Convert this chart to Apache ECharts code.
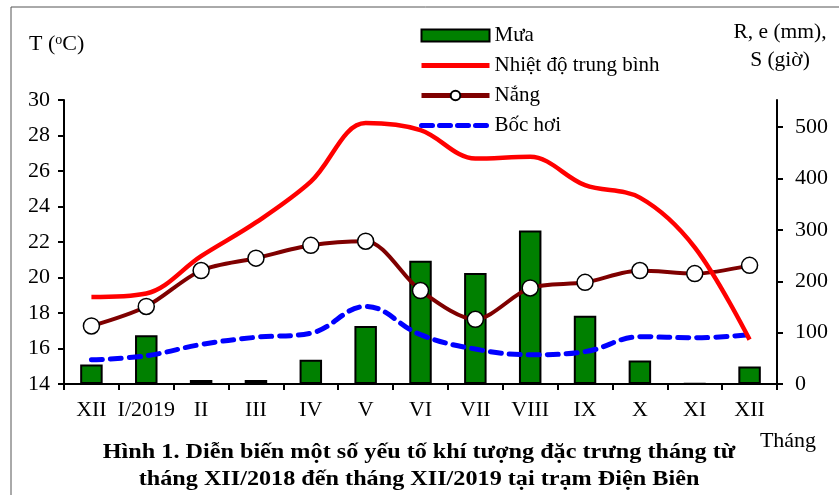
<!DOCTYPE html>
<html>
<head>
<meta charset="utf-8">
<style>html,body{margin:0;padding:0;background:#fff;}#c{width:839px;height:495px;}</style>
<script src="https://cdn.jsdelivr.net/npm/echarts@6/dist/echarts.min.js"></script>
</head>
<body>
<div id="c"></div>
<script>
const categories = ['XII', 'I/2019', 'II', 'III', 'IV', 'V', 'VI', 'VII', 'VIII', 'IX', 'X', 'XI', 'XII'];
const rain = [38, 95, 8, 8, 47, 113, 240, 216, 299, 133, 46, 1, 34];
const temperature = [18.9, 19.1, 21.2, 23.1, 25.4, 28.7, 28.3, 26.7, 26.8, 25.2, 24.5, 21.7, 16.5];
const sunshine = [113, 151, 221, 245, 270, 278, 182, 126, 187, 198, 221, 215, 231];
const evaporation = [47, 55, 77, 91, 99, 151, 96, 68, 57, 63, 92, 90, 96];
const leftTicks = [14, 16, 18, 20, 22, 24, 26, 28, 30];
const rightTicks = [0, 100, 200, 300, 400, 500];

const FONT = 'Liberation Serif';
const chart = echarts.init(document.getElementById('c'));
chart.setOption({
  animation: false,
  backgroundColor: '#fff',
  textStyle: { fontFamily: FONT, color: '#000' },
  grid: { left: 64, right: 62, top: 100, bottom: 111 },
  legend: {
    orient: 'vertical',
    left: 414,
    top: 20,
    itemWidth: 68,
    itemHeight: 12,
    itemGap: 9,
    data: [
      { name: 'Mưa', icon: 'rect' },
      { name: 'Nhiệt độ trung bình', itemStyle: { opacity: 0 }, lineStyle: { width: 5 } },
      { name: 'Nắng', lineStyle: { width: 5 } },
      { name: 'Bốc hơi', itemStyle: { opacity: 0 }, lineStyle: { width: 5, type: [11, 7] } }
    ],
    textStyle: { fontFamily: FONT, fontSize: 21, color: '#000', lineHeight: 21 }
  },
  xAxis: {
    type: 'category',
    data: categories,
    boundaryGap: true,
    axisLine: { lineStyle: { color: '#000', width: 2 } },
    axisTick: { show: true, interval: 0, length: 6, lineStyle: { color: '#000', width: 2 } },
    axisLabel: { interval: 0, fontFamily: FONT, fontSize: 22, color: '#000', margin: 15 },
    splitLine: { show: false }
  },
  yAxis: [
    {
      type: 'value', min: 14, max: 30, interval: 2,
      axisLine: { show: true, lineStyle: { color: '#000', width: 2 } },
      axisTick: { show: true, length: 6, lineStyle: { color: '#000', width: 2 } },
      axisLabel: { fontFamily: FONT, fontSize: 22, color: '#000', margin: 14, customValues: leftTicks },
      splitLine: { show: false }
    },
    {
      type: 'value', min: 0, max: 553,
      axisLine: { show: true, lineStyle: { color: '#000', width: 2 } },
      axisTick: { show: true, length: 6, lineStyle: { color: '#000', width: 2 }, customValues: rightTicks },
      axisLabel: { fontFamily: FONT, fontSize: 22, color: '#000', margin: 18, customValues: rightTicks },
      splitLine: { show: false }
    }
  ],
  series: [
    {
      name: 'Mưa', type: 'bar', yAxisIndex: 1, data: rain,
      barWidth: '41%',
      itemStyle: { color: '#008000', borderColor: '#000', borderWidth: 2 }
    },
    {
      name: 'Bốc hơi', type: 'line', yAxisIndex: 1, data: evaporation,
      smooth: 0.4, symbol: 'none',
      lineStyle: { color: '#0000FF', width: 5, type: [11, 8], cap: 'round' },
      itemStyle: { color: '#0000FF' }
    },
    {
      name: 'Nắng', type: 'line', yAxisIndex: 1, data: sunshine,
      smooth: 0.3, symbol: 'circle', symbolSize: 16,
      lineStyle: { color: '#7F0000', width: 4 },
      itemStyle: { color: '#fff', borderColor: '#000', borderWidth: 1.5 }
    },
    {
      name: 'Nhiệt độ trung bình', type: 'line', yAxisIndex: 0, data: temperature,
      smooth: 0.35, symbol: 'none',
      lineStyle: { color: '#FF0000', width: 4.5 },
      itemStyle: { color: '#FF0000' }
    }
  ],
  graphic: [
    { type: 'rect', shape: { x: 11, y: 7, width: 900, height: 900 }, style: { fill: 'none', stroke: '#555', lineWidth: 1 }, silent: true },
    {
      type: 'text', left: 29, top: 33,
      style: {
        text: '{n|T (}{s|o}{n|C)}',
        rich: {
          n: { fontFamily: FONT, fontSize: 22, fill: '#000' },
          s: { fontFamily: FONT, fontSize: 14, fill: '#000', verticalAlign: 'top', padding: [0, 0, 8, 0] }
        }
      }
    },
    {
      type: 'text', x: 780, y: 46,
      style: { text: 'R, e (mm),\nS (giờ)', font: '21.5px "Liberation Serif"', fill: '#000', align: 'center', verticalAlign: 'middle', lineHeight: 28 }
    },
    {
      type: 'text', x: 788, y: 441,
      style: { text: 'Tháng', font: '22px "Liberation Serif"', fill: '#000', align: 'center', verticalAlign: 'middle' }
    },
    {
      type: 'text', x: 419, y: 466, scaleX: 1.1,
      style: { text: 'Hình 1. Diễn biến một số yếu tố khí tượng đặc trưng tháng từ\ntháng XII/2018 đến tháng XII/2019 tại trạm Điện Biên', font: 'bold 22px "Liberation Serif"', fill: '#000', align: 'center', verticalAlign: 'middle', lineHeight: 27 }
    }
  ]
});
</script>
</body>
</html>
